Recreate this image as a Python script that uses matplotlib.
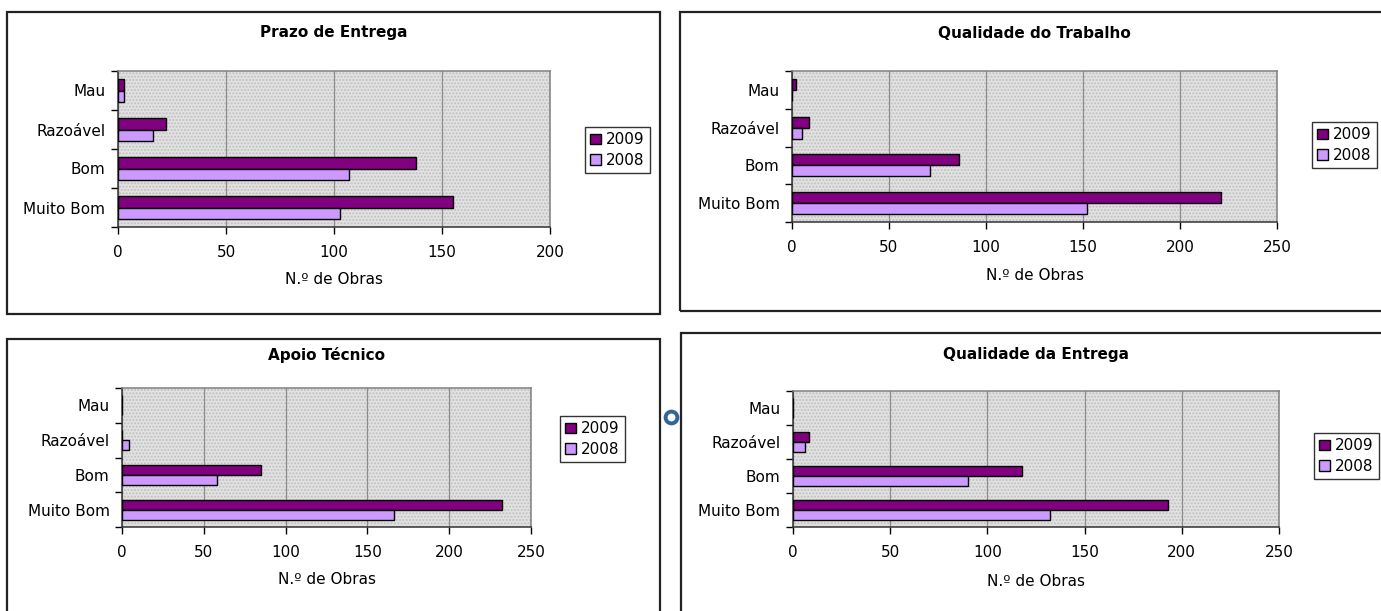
import numpy as np
import matplotlib
matplotlib.use('Agg')
import matplotlib.pyplot as plt
from matplotlib.patches import Rectangle
from matplotlib.lines import Line2D

W, H = 1381, 611

categorias = ['Muito Bom', 'Bom', 'Razoável', 'Mau']
anos = ['2009', '2008']
cores = {'2009': '#800080', '2008': '#cc99ff'}

# N.º de obras por categoria (Muito Bom, Bom, Razoável, Mau)
prazo_2009 = [155, 138, 22, 3]
prazo_2008 = [103, 107, 16, 3]
trabalho_2009 = [221, 86, 9, 2]
trabalho_2008 = [152, 71, 5, 0]
apoio_2009 = [232, 85, 0, 0]
apoio_2008 = [166, 58, 4, 0]
entrega_2009 = [193, 118, 8, 0]
entrega_2008 = [132, 90, 6, 0]

plt.rcParams['font.family'] = ['DejaVu Sans']
FS = 11


def fx(x):
    return x / W


def fy(y):
    return 1 - y / H


def caixa(fig, x0, y0, x1, y1):
    fig.patches.append(Rectangle((fx(x0), fy(y1)), fx(x1 - x0), (y1 - y0) / H,
                                 transform=fig.transFigure, fill=False,
                                 edgecolor='#222222', linewidth=1.6))


def painel(fig, area, titulo, v2009, v2008, xmax, leg_pos, titulo_y, xlabel_y):
    x0, y0, x1, y1 = area
    ax = fig.add_axes([fx(x0), fy(y1), fx(x1 - x0), (y1 - y0) / H])
    ax.set_facecolor('#e2e2e2')
    # textura pontilhada do fundo
    ax.add_patch(Rectangle((0, 0), 1, 1, transform=ax.transAxes, facecolor='none',
                           edgecolor='#c0c0c0', hatch='.....', linewidth=0, zorder=0))
    y = np.arange(len(categorias))
    h = 0.29
    ax.barh(y + h / 2, v2009, height=h, color=cores['2009'], edgecolor='black',
            linewidth=1.0, label='2009', zorder=3)
    ax.barh(y - h / 2, v2008, height=h, color=cores['2008'], edgecolor='black',
            linewidth=1.0, label='2008', zorder=3)
    ax.set_xlim(0, xmax)
    ax.set_ylim(-0.5, len(categorias) - 0.5)
    ax.set_xticks(np.arange(0, xmax + 1, 50))
    ax.xaxis.grid(True, color='#8c8c8c', linewidth=0.9, zorder=1)
    ax.set_axisbelow(True)
    ax.set_yticks(y)
    ax.set_yticklabels(categorias)
    ax.set_yticks(np.arange(-0.5, len(categorias)), minor=True)
    ax.tick_params(axis='y', which='major', length=0, pad=9, labelsize=FS)
    ax.tick_params(axis='y', which='minor', length=5, width=1, direction='out')
    ax.tick_params(axis='x', length=5, width=1, direction='out', labelsize=FS, pad=8)
    for s in ['left', 'bottom']:
        ax.spines[s].set_color('#333333')
        ax.spines[s].set_linewidth(1.1)
    for s in ['top', 'right']:
        ax.spines[s].set_color('#808080')
        ax.spines[s].set_linewidth(1.1)
    cx = (x0 + x1) / 2
    fig.text(fx(cx), fy(titulo_y), titulo, ha='center', va='center',
             fontsize=FS, fontweight='bold')
    fig.text(fx(cx), fy(xlabel_y), 'N.º de Obras', ha='center', va='center',
             fontsize=FS)
    lx, ly = leg_pos
    leg = ax.legend(loc='center left', bbox_to_anchor=(fx(lx), fy(ly)),
                    bbox_transform=fig.transFigure, frameon=True, fancybox=False,
                    fontsize=FS, handlelength=0.7, handleheight=0.7,
                    handletextpad=0.3, borderpad=0.35, labelspacing=0.35,
                    borderaxespad=0)
    leg.get_frame().set_edgecolor('black')
    leg.get_frame().set_linewidth(1.0)
    return ax


fig = plt.figure(figsize=(W / 100, H / 100), dpi=100)

caixa(fig, 7, 12, 660, 314)
caixa(fig, 680, 12, 1395, 311)
caixa(fig, 7, 339, 660, 625)
caixa(fig, 681, 333, 1395, 625)

painel(fig, (118, 71, 550, 227), 'Prazo de Entrega', prazo_2009, prazo_2008, 200,
       (585, 150), 33, 280)
painel(fig, (792, 71, 1277, 222), 'Qualidade do Trabalho', trabalho_2009, trabalho_2008, 250,
       (1312, 145), 34, 276)
painel(fig, (122, 388, 531, 527), 'Apoio Técnico', apoio_2009, apoio_2008, 250,
       (560, 439), 355, 579)
painel(fig, (793, 391, 1279, 527), 'Qualidade da Entrega', entrega_2009, entrega_2008, 250,
       (1314, 456), 355, 581)

# pequeno anel azul entre os painéis de baixo
fig.add_artist(Line2D([fx(671)], [fy(417)], transform=fig.transFigure, marker='o',
                      markersize=8.5, markerfacecolor='none', markeredgecolor='#2e6699',
                      markeredgewidth=2.8, linestyle='none'))

fig.savefig('out.png', dpi=100)
